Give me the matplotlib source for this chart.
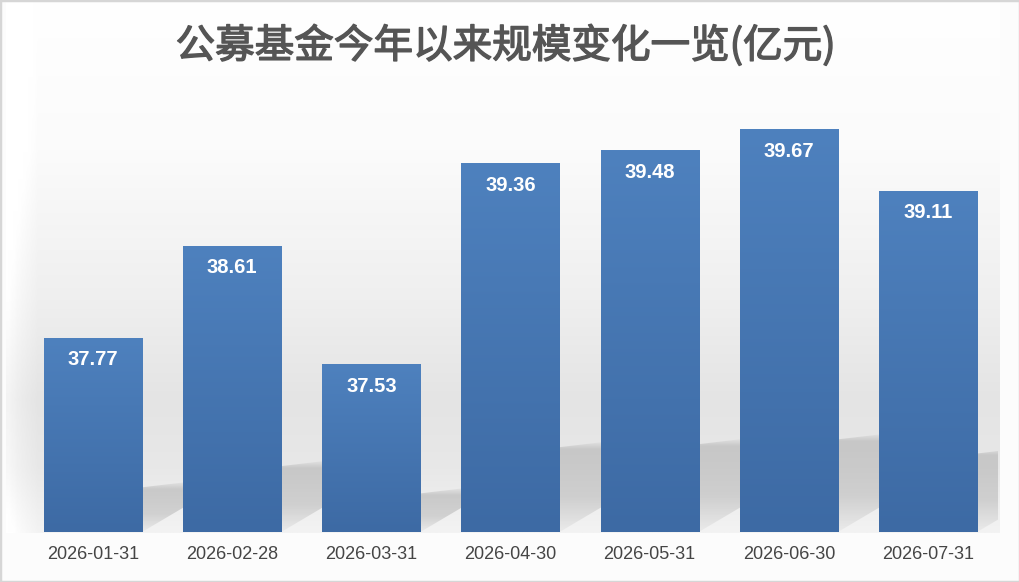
import numpy as np
import matplotlib
matplotlib.use("Agg")
import matplotlib.pyplot as plt
import matplotlib.patheffects as pe
from matplotlib.patches import Polygon, Rectangle

plt.rcParams['font.family'] = ['Liberation Sans', 'Noto Sans CJK SC', 'DejaVu Sans']

# data
dates = ["2026-01-31", "2026-02-28", "2026-03-31", "2026-04-30",
         "2026-05-31", "2026-06-30", "2026-07-31"]
scale = [37.77, 38.61, 37.53, 39.36, 39.48, 39.67, 39.11]
title = "公募基金今年以来规模变化一览(亿元)"

W, H = 1020, 582
Y0, Y1 = 36.0, 40.0
BAR_W = 0.705

fig = plt.figure(figsize=(W / 100, H / 100), dpi=100)
fig.patch.set_facecolor("#fcfcfc")


def fx(px):
    return px / W


def fy(py):
    return 1 - py / H


# background panel: white at the top, grey towards the bar feet
bg = fig.add_axes([fx(6), fy(533), fx(1000) - fx(6), fy(0) - fy(533)])
bg.set_axis_off()
rows = np.linspace(0, 533, 300)
level = np.interp(rows, [0, 150, 300, 400, 470, 533],
                  [255, 251, 239, 228, 232, 243]) / 255
cols = np.linspace(0, 1, 200)
edge = np.interp(cols, [0, 0.012, 0.03, 1], [0.06, 0.03, 0, 0])
img = np.clip(level[:, None] + edge[None, :], 0, 1)
bg.imshow(np.dstack([img, img, img]), aspect="auto", extent=(0, 1, 0, 1))
bg.set_xlim(0, 1)
bg.set_ylim(0, 1)

ax = fig.add_axes([fx(23.4), fy(532), fx(997.6) - fx(23.4), fy(93) - fy(532)])
ax.set_facecolor("none")
x = np.arange(len(dates))
ax.set_xlim(-0.5, len(dates) - 0.5)
ax.set_ylim(Y0, Y1)

# cast shadows on the floor, to the right of each bar
sdx = 0.40
sdy = 0.30
for xi, v in zip(x, scale):
    xr = xi + BAR_W / 2
    h = 0.23 * (v - Y0)
    poly = Polygon([(xr, Y0), (xr + sdx, Y0 + sdy), (xr + sdx, Y0 + h + 0.06),
                    (xr, Y0 + h)], closed=True, transform=ax.transData,
                   facecolor="none", edgecolor="none")
    ax.add_patch(poly)
    ys = np.linspace(0, 1, 100)
    top = Y0 + h + 0.06
    yy = Y0 + ys * (top - Y0)
    alpha = np.interp(yy, [Y0, Y0 + 0.4 * h, top - 0.08, top],
                      [0.12, 0.5, 0.6, 0.0])
    grad = np.zeros((100, 2, 4))
    grad[..., :3] = 0.70
    grad[..., 3] = alpha[::-1, None]
    im = ax.imshow(grad, extent=(xr, xr + sdx, Y0, top), aspect="auto",
                   zorder=1, interpolation="bilinear")
    im.set_clip_path(poly)

# bars with a vertical blue gradient
bars = ax.bar(x, np.array(scale) - Y0, bottom=Y0, width=BAR_W,
              color="#4677b4", zorder=2)
top_c = np.array([0x4e, 0x81, 0xbe]) / 255
bot_c = np.array([0x3d, 0x6a, 0xa4]) / 255
for b in bars:
    t = np.linspace(0, 1, 200)[:, None]
    col = top_c * (1 - t) + bot_c * t
    grad = np.repeat(col[:, None, :], 2, axis=1)
    bx, by = b.get_x(), b.get_y()
    im = ax.imshow(grad, extent=(bx, bx + b.get_width(), by, by + b.get_height()),
                   aspect="auto", zorder=3, interpolation="bilinear")
    im.set_clip_path(b)

for xi, v in zip(x, scale):
    ax.annotate(f"{v:.2f}", (xi, v), xytext=(0, -22), textcoords="offset pixels",
                ha="center", va="center", color="white", fontsize=14.5,
                fontweight="bold", zorder=4)

ax.set_xticks(x, dates)
ax.tick_params(axis="x", length=0, pad=10, labelsize=13, labelcolor="#454545")
ax.set_yticks([])
for s in ax.spines.values():
    s.set_visible(False)
ax.set_ylim(Y0, Y1)
ax.set_xlim(-0.5, len(dates) - 0.5)

fig.text(0.496, fy(46), title, ha="center", va="center", fontsize=28.5,
         color="#555555", family=["Noto Sans CJK SC", "DejaVu Sans"],
         path_effects=[pe.withStroke(linewidth=1.0, foreground="#555555")])

fig.add_artist(Rectangle((0, 0), 1, 1, transform=fig.transFigure, fill=False,
                         edgecolor="#d6d6d6", linewidth=2.5))

fig.savefig("out.png", dpi=100, facecolor=fig.get_facecolor())
